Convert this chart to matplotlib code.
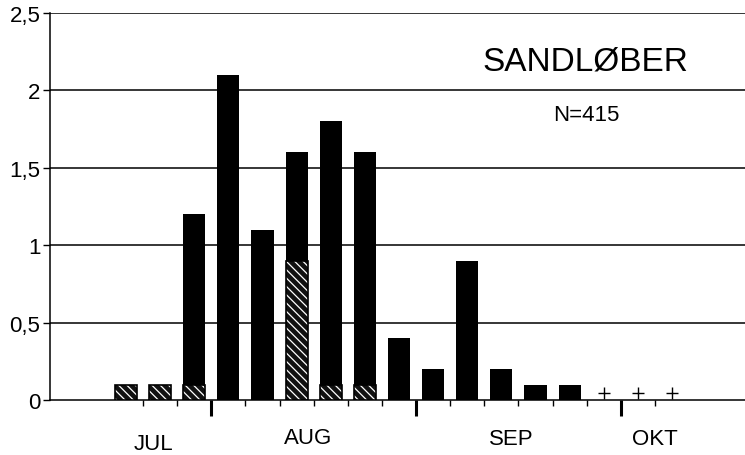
import matplotlib
matplotlib.use('Agg')
import matplotlib.pyplot as plt

plt.rcParams['font.family'] = ['Liberation Sans', 'DejaVu Sans']
plt.rcParams['hatch.linewidth'] = 0.9

# ==== data ====
uge = [2, 3, 4, 5, 6, 7, 8, 9, 10, 11, 12, 13, 14, 15]
total = [0.1, 0.1, 1.2, 2.1, 1.1, 1.6, 1.8, 1.6, 0.4, 0.2, 0.9, 0.2, 0.1, 0.1]
skraveret = [0.1, 0.1, 0.1, 0, 0, 0.9, 0.1, 0.1, 0, 0, 0, 0, 0, 0]
nul_uger = [16, 17, 18]
maaneder = ['JUL', 'AUG', 'SEP', 'OKT']
maaned_x = [2.8, 7.35, 13.3, 17.5]
maaned_y = [-0.28, -0.24, -0.25, -0.25]
smaa_ticks = [2.5, 3.5, 5.5, 6.5, 7.5, 8.5, 9.5, 11.5, 12.5, 13.5, 14.5, 15.5, 17.5]
store_ticks = [4.5, 10.5, 16.5]
y_ticks = [0, 0.5, 1, 1.5, 2, 2.5]
y_labels = ['0', '0,5', '1', '1,5', '2', '2,5']

fig = plt.figure(figsize=(7.45, 4.56), dpi=100)
ax = fig.add_axes([0.0671, 0.1206, 0.9329, 0.8487])

for y in y_ticks[1:]:
    ax.axhline(y, color='black', lw=1.1, zorder=1)

ax.bar(uge, total, width=0.65, color='black', zorder=2)
# skravering: hvide streger paa sort bund
ax.bar(uge, skraveret, width=0.65, facecolor='#111111', edgecolor='white',
       hatch='\\\\\\\\', lw=0, zorder=3)
ax.bar(uge, skraveret, width=0.65, facecolor='none', edgecolor='black',
       lw=1.2, zorder=4)
ax.plot(nul_uger, [0.045]*len(nul_uger), '+', color='black', ms=8, mew=1, zorder=3)

ax.set_xlim(-0.227, 20.14)
ax.set_ylim(0, 2.5)

ax.set_yticks(y_ticks)
ax.set_yticklabels(y_labels, fontsize=16)
ax.tick_params(axis='y', direction='out', length=5, width=1, pad=2)

ax.set_xticks(store_ticks)
ax.set_xticklabels([])
ax.set_xticks(smaa_ticks, minor=True)
ax.tick_params(axis='x', which='major', direction='out', length=11.5, width=2.2)
ax.tick_params(axis='x', which='minor', direction='out', length=4, width=1)

for s in ['top', 'right']:
    ax.spines[s].set_visible(False)
ax.spines['left'].set_linewidth(1.1)
ax.spines['bottom'].set_linewidth(1.1)

for navn, x, y in zip(maaneder, maaned_x, maaned_y):
    ax.text(x, y, navn, fontsize=16, ha='center', va='center', clip_on=False)

ax.text(15.45, 2.19, 'SANDLØBER', fontsize=24, ha='center', va='center')
ax.text(15.5, 1.845, 'N=415', fontsize=16, ha='center', va='center')

fig.savefig('out.png', dpi=100)
